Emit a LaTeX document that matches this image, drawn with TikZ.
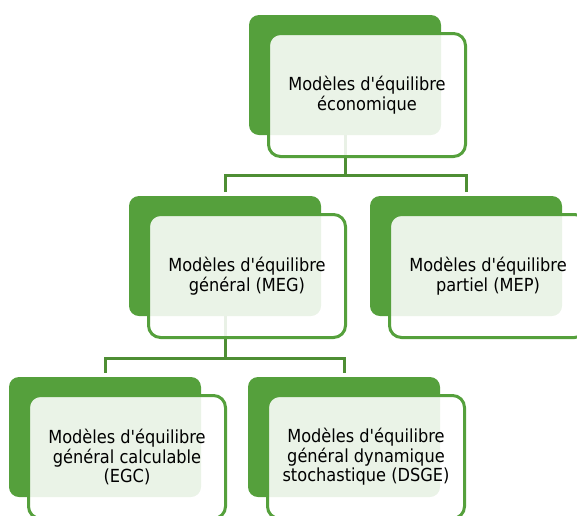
\documentclass[tikz,border=0pt]{standalone}
\usepackage{fontspec}
\newfontfamily\boxfont{DejaVu Sans Condensed}
\usetikzlibrary{positioning}

\definecolor{boxgreen}{HTML}{55A03C}
\definecolor{linegreen}{HTML}{4E8E34}

\begin{document}
\begin{tikzpicture}[
		x=1pt, y=-1pt, node distance=181pt,
		backbox/.style={rectangle, fill=boxgreen, rounded corners=10pt,
		minimum width=192pt, minimum height=120pt, inner sep=0pt},
		frontbox/.style={rectangle, draw=boxgreen, line width=3pt, fill=white,
		fill opacity=0.88, text opacity=1, rounded corners=12pt,
		minimum width=197pt, minimum height=123pt, inner sep=0pt,
		align=center, font=\boxfont\fontsize{18}{19.5}\selectfont},
		link/.style={draw=linegreen, line width=3pt, shorten >=4pt}
		]
		\useasboundingbox (0,0) rectangle (577,515);
		\clip (0,0) rectangle (577,515);
		
		\node[backbox](eco) at (345,75){};
		\node[backbox, below of = eco, xshift = -120pt](meg){};
		\node[backbox, below of = eco, xshift = 121pt](mep){};
		\node[backbox, below of = meg, xshift = -120pt](egc){};
		\node[backbox, below of = meg, xshift = 119pt](dsge){};
		
		\draw[link] (eco.south) -- ++(0,40) -| (meg.north);
		\draw[link] (eco.south) -- ++(0,40) -| (mep.north);
		\draw[link] (meg.south) -- ++(0,42) -| (egc.north);
		\draw[link] (meg.south) -- ++(0,42) -| (dsge.north);
		
		\node[frontbox, node distance = 20pt, below of = eco, xshift = 22pt](ecotext)
		{Modèles d'équilibre\\économique};
		\node[frontbox, node distance = 20pt, below of = meg, xshift = 22pt](megtext)
		{Modèles d'équilibre\\général (MEG)};
		\node[frontbox, node distance = 20pt, below of = mep, xshift = 22pt](meptext)
		{Modèles d'équilibre\\partiel (MEP)};
		\node[frontbox, node distance = 20pt, below of = egc, xshift = 22pt](egctext)
		{Modèles d'équilibre\\général calculable\\(EGC)};
		\node[frontbox, node distance = 20pt, below of = dsge, xshift = 22pt](dsgetext)
		{Modèles d'équilibre\\général dynamique\\stochastique (DSGE)};

	\end{tikzpicture}
\end{document}
